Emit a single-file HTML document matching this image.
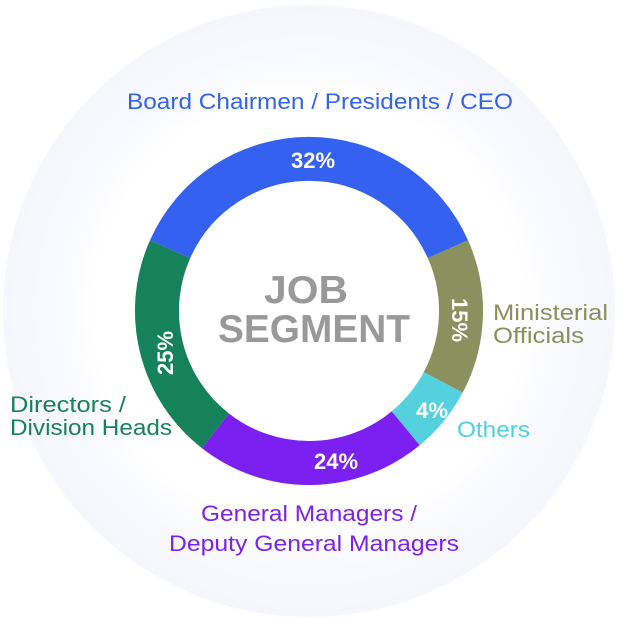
<!DOCTYPE html>
<html><head><style>body{margin:0;background:#fff}svg{display:block}</style></head>
<body>
<svg width="618" height="618" viewBox="0 0 618 618" xmlns="http://www.w3.org/2000/svg">
<defs>
<radialGradient id="bg" cx="309" cy="311" r="306" gradientUnits="userSpaceOnUse">
<stop offset="0.7" stop-color="#ffffff"/>
<stop offset="0.85" stop-color="#f8f9fe"/>
<stop offset="1" stop-color="#f6f7fd"/>
</radialGradient>
</defs>
<rect width="618" height="618" fill="#fff"/>
<circle cx="309" cy="311" r="306" fill="url(#bg)"/>
<g fill="none" stroke-width="44">
<path d="M170.1 249.2 A152 152 0 0 1 447.9 249.2" stroke="#3461f0"/>
<path d="M447.9 249.2 A152 152 0 0 1 443.2 382.4" stroke="#8a915e"/>
<path d="M443.2 382.4 A152 152 0 0 1 405.7 428.3" stroke="#55d1de"/>
<path d="M405.7 428.3 A152 152 0 0 1 215.4 430.8" stroke="#7b20f0"/>
<path d="M215.4 430.8 A152 152 0 0 1 170.1 249.2" stroke="#15825b"/>
</g>
<g font-family="Liberation Sans, Arial, sans-serif" font-weight="bold" fill="#fff" font-size="22" text-anchor="middle">
<text x="313" y="168">32%</text>
<text transform="translate(460,320) rotate(90)" y="8">15%</text>
<text x="432" y="418">4%</text>
<text x="336" y="469">24%</text>
<text transform="translate(165,353) rotate(-90)" y="8">25%</text>
</g>
<g font-family="Liberation Sans, Arial, sans-serif" font-weight="bold" fill="#999" font-size="39">
<text x="264" y="303" textLength="84" lengthAdjust="spacingAndGlyphs">JOB</text>
<text x="218" y="342" textLength="192" lengthAdjust="spacingAndGlyphs">SEGMENT</text>
</g>
<g font-family="Liberation Sans, Arial, sans-serif" font-size="22" lengthAdjust="spacingAndGlyphs">
<text x="127" y="109" textLength="386" lengthAdjust="spacingAndGlyphs" fill="#3461f0">Board Chairmen / Presidents / CEO</text>
<text x="493" y="320" textLength="115" lengthAdjust="spacingAndGlyphs" fill="#8a8f5c">Ministerial</text>
<text x="493" y="343" textLength="91" lengthAdjust="spacingAndGlyphs" fill="#8a8f5c">Officials</text>
<text x="457" y="437" textLength="73" lengthAdjust="spacingAndGlyphs" fill="#4fd0df">Others</text>
<text x="10" y="412" textLength="116" lengthAdjust="spacingAndGlyphs" fill="#17825a">Directors /</text>
<text x="10" y="435" textLength="162" lengthAdjust="spacingAndGlyphs" fill="#17825a">Division Heads</text>
<text x="201" y="521" textLength="216" lengthAdjust="spacingAndGlyphs" fill="#7b22ee">General Managers /</text>
<text x="169" y="551" textLength="290" lengthAdjust="spacingAndGlyphs" fill="#7b22ee">Deputy General Managers</text>
</g>
</svg>
</body></html>
